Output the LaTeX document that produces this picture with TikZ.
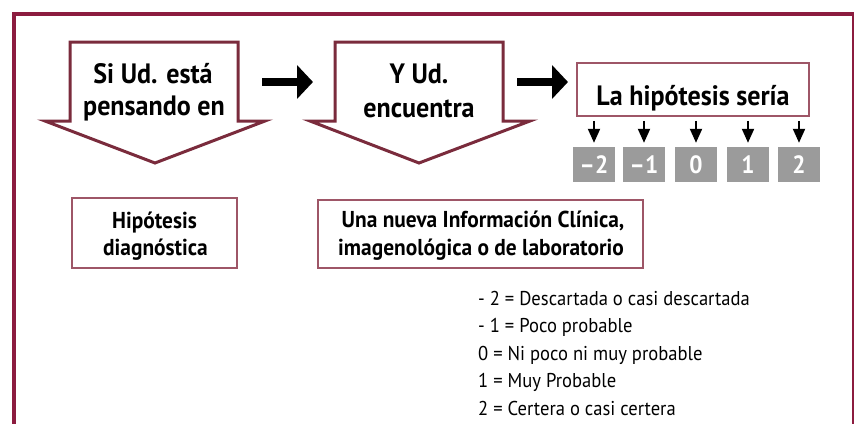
\documentclass[tikz,border=0pt]{standalone}
\usepackage{fontspec}
\setmainfont[FakeStretch=0.93]{PT Sans}
\usetikzlibrary{arrows.meta}
\definecolor{framec}{HTML}{8C1C3F}
\definecolor{outl}{HTML}{7A2B3C}
\definecolor{boxl}{HTML}{9E5667}
\definecolor{gboxc}{HTML}{9B9B9B}
\begin{document}
\begin{tikzpicture}[x=1pt,y=-1pt,
  bigtxt/.style={font=\bfseries\fontsize{28}{32}\selectfont, inner sep=0pt},
  midtxt/.style={font=\bfseries\fontsize{23}{27}\selectfont, inner sep=0pt},
  legtxt/.style={font=\fontsize{20}{24}\selectfont, inner sep=0pt, anchor=base west},
  arrowshape/.style={draw=outl, line width=3pt, line join=miter, fill=white},
  boxst/.style={draw=boxl, line width=1.5pt, fill=white, inner sep=0pt},
  gbox/.style={fill=gboxc, minimum width=42pt, minimum height=35pt, inner sep=0pt,
    text=white, font=\bfseries\fontsize{25}{28}\selectfont, text height=17.5pt, text depth=0pt},
  bigarrow/.style={line width=8pt, -{Triangle[length=16pt,width=33pt]}},
  smallarrow/.style={line width=2pt, -{Triangle[length=14pt,width=12pt]}, shorten <=4pt, shorten >=4pt}
]
\useasboundingbox (0,0) rectangle (854,423);
\begin{scope}
\clip (0,0) rectangle (854,423);
\draw[framec, line width=4pt] (14,440) -- (14,14) -- (854,14) -- (854,440);
\end{scope}

% arrow shapes
\draw[arrowshape] (70,42) -- (238,42) -- (238,121) -- (265,121) -- (155,163) -- (45,121) -- (70,121) -- cycle;
\draw[arrowshape] (335,42) -- (503,42) -- (503,121) -- (530,121) -- (419,163) -- (310,121) -- (335,121) -- cycle;
\node[bigtxt, anchor=base] (s1a) at (153,83) {Si Ud. está};
\node[bigtxt, anchor=base] (s1b) at (154,115) {pensando en};
\node[bigtxt, anchor=base] (s2a) at (419,83) {Y Ud.};
\node[bigtxt, anchor=base] (s2b) at (419,117) {encuentra};

% big arrows
\coordinate (a1s) at (262,82);
\coordinate (a1e) at (313,82);
\coordinate (a2s) at (517,82);
\coordinate (a2e) at (568,82);
\draw[bigarrow] (a1s) -- (a1e);
\draw[bigarrow] (a2s) -- (a2e);

% hypothesis result box
\node[boxst, minimum width=232pt, minimum height=53pt, font=\bfseries\fontsize{28}{32}\selectfont,
  text height=31pt, text depth=0pt] (hyp) at (693,89.5) {La hipótesis sería};

% gray boxes
\node[gbox] (g1) at (594,164.5) {–2};
\node[gbox] (g2) at (644,164.5) {–1};
\node[gbox] (g3) at (696,164.5) {0};
\node[gbox] (g4) at (748,164.5) {1};
\node[gbox] (g5) at (799,164.5) {2};
\foreach \g in {g1,g2,g3,g4,g5}
  \draw[smallarrow] (\g |- hyp.south) -- (\g.north);

% lower boxes
\node[boxst, minimum width=165pt, minimum height=70pt] (hd) at (154.5,233) {};
\node[midtxt, anchor=base] (hd1) at (154.5,228) {Hipótesis};
\node[midtxt, anchor=base] (hd2) at (155.5,255) {diagnóstica};
\node[boxst, minimum width=325pt, minimum height=68pt] (ni) at (480.5,234) {};
\node[midtxt, anchor=base] (ni1) at (483,227) {Una nueva Información Clínica,};
\node[midtxt, anchor=base] (ni2) at (481,255) {imagenológica o de laboratorio};

% legend
\node[legtxt] (l1) at (478,305) {- 2 = Descartada o casi descartada};
\node[legtxt] (l2) at (478,332.5) {- 1 = Poco probable};
\node[legtxt] (l3) at (478,360) {0 = Ni poco ni muy probable};
\node[legtxt] (l4) at (478,387.5) {1 = Muy Probable};
\node[legtxt] (l5) at (478,415) {2 = Certera o casi certera};
\end{tikzpicture}
\end{document}
